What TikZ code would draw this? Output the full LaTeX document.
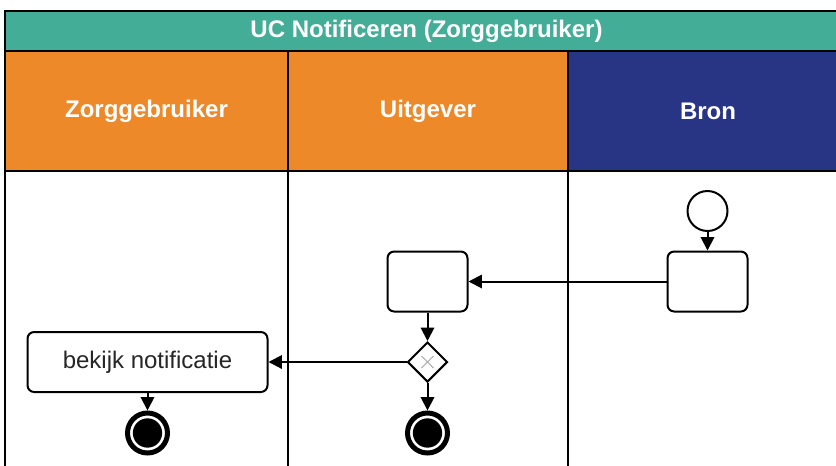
\documentclass[tikz,border=0pt]{standalone}
\usepackage{fontspec}
\setmainfont{Liberation Sans}
\usetikzlibrary{arrows.meta,shapes.geometric}
\definecolor{poolgreen}{RGB}{67,173,151}
\definecolor{laneorange}{RGB}{238,137,41}
\definecolor{lanenavy}{RGB}{40,52,132}

\begin{document}
\begin{tikzpicture}[x=0.75pt,y=-0.75pt,
    every node/.style={font=\fontsize{18}{21}\selectfont},
    hdr/.style={text=white,font=\fontsize{18}{21}\selectfont\bfseries},
    task/.style={draw,rounded corners=5pt,line width=1.5pt,minimum height=45pt,inner sep=0pt,fill=white},
    startev/.style={draw,circle,line width=1.5pt,minimum size=30pt,inner sep=0pt},
    endev/.style={draw,circle,line width=3.75pt,minimum size=30pt,inner sep=0pt,
        path picture={\fill (path picture bounding box.center) circle (11pt);}},
    gate/.style={draw,diamond,line width=1.5pt,minimum width=30pt,minimum height=30pt,inner sep=0pt,fill=white},
    flow/.style={-{Triangle[length=10pt,width=10pt]},line width=1.5pt}]
    \useasboundingbox (0,0) rectangle (836,465);
    \clip (0,0) rectangle (836,465);
    % pool en lanes
    \fill[poolgreen] (5,11) rectangle (848,51);
    \fill[laneorange] (5,51) rectangle (568,171);
    \fill[lanenavy] (568,51) rectangle (848,171);
    \draw[line width=1.5pt] (5,11) rectangle (848,480);
    \draw[line width=1.5pt] (5,51) -- (848,51);
    \draw[line width=1.5pt] (5,171) -- (848,171);
    \foreach \x in {288,568}{
        \draw[line width=1.5pt] (\x,51) -- (\x,480);
        };
    \node[hdr] (pool) at (426.5,31) {UC Notificeren (Zorggebruiker)};
    \node[hdr] (zorg) at (146.5,111) {Zorggebruiker};
    \node[hdr] (uitgever) at (428,111) {Uitgever};
    \node[hdr] (bron) at (708,111) {Bron};
    % stappen
    \node[startev] (start) at (707.5,211) {};
    \node[task,minimum width=60pt] (taakbron) at (707.5,281.5) {};
    \node[task,minimum width=60pt] (taakuitgever) at (427.5,281.5) {};
    \node[gate] (keuze) at (427.5,362) {};
    \draw[gray!70,line width=0.6pt] ([shift={(-6,-6)}]keuze.center) -- ([shift={(6,6)}]keuze.center);
    \draw[gray!70,line width=0.6pt] ([shift={(-6,6)}]keuze.center) -- ([shift={(6,-6)}]keuze.center);
    \node[endev] (eindeuitgever) at (427.5,433) {};
    \node[task,minimum width=180pt,text=black!85] (bekijk) at (147.5,362) {bekijk notificatie};
    \node[endev] (eindezorg) at (147.5,433) {};
    % stromen
    \draw[flow] (start) -- (taakbron);
    \draw[flow] (taakbron) -- (taakuitgever);
    \draw[flow] (taakuitgever) -- (keuze);
    \draw[flow] (keuze) -- (eindeuitgever);
    \draw[flow] (keuze) -- (bekijk);
    \draw[flow] (bekijk) -- (eindezorg);
\end{tikzpicture}
\end{document}
